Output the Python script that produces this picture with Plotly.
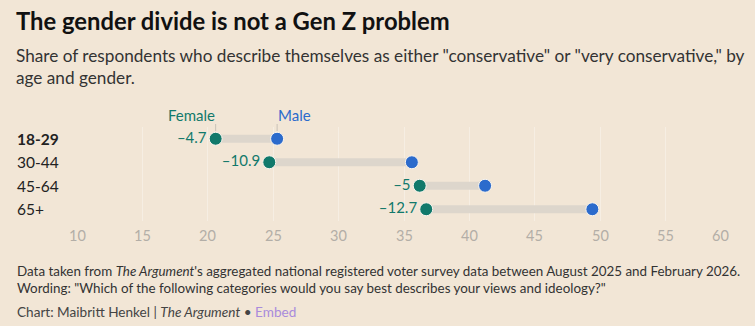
import plotly.graph_objects as go

# ---- data ----
groups = ["18-29", "30-44", "45-64", "65+"]
female = [20.6, 24.7, 36.2, 36.7]
male = [25.3, 35.6, 41.2, 49.4]
gap_labels = ["–4.7", "–10.9", "–5", "–12.7"]
tick_vals = [10, 15, 20, 25, 30, 35, 40, 45, 50, 55, 60]
tick_text = [str(v) for v in tick_vals]

W, H = 755, 326
ML, MR, MT, MB = 77, 24, 127, 105
PW, PH = W - ML - MR, H - MT - MB

BG = "#f2e6d6"
TEAL = "#11796b"
BLUE = "#2c6bcc"
BAR = "#ddd6cc"
FONT = "Lato"


def px_x(px):
    return (px - ML) / PW


def px_y(py):
    return (H - MB - py) / PH


rows = list(range(len(groups)))
fig = go.Figure()

# connecting bars
for i in rows:
    fig.add_trace(go.Scatter(x=[female[i], male[i]], y=[i, i], mode="lines",
                             line=dict(color=BAR, width=8), hoverinfo="skip",
                             showlegend=False))

fig.add_trace(go.Scatter(x=female, y=rows, mode="markers+text",
                         text=gap_labels, textposition="middle left",
                         textfont=dict(family=FONT, size=15, color=TEAL),
                         marker=dict(size=13, color=TEAL, line=dict(color="#fbf6ef", width=1)),
                         showlegend=False))
fig.add_trace(go.Scatter(x=male, y=rows, mode="markers",
                         marker=dict(size=13, color=BLUE, line=dict(color="#fbf6ef", width=1)),
                         showlegend=False))

ann = []
# title / subtitle
ann.append(dict(text="<b>The gender divide is not a Gen Z problem</b>", x=px_x(14), y=px_y(5),
                xref="paper", yref="paper", xanchor="left", yanchor="top", showarrow=False,
                font=dict(family=FONT, size=23.8, color="#111")))
ann.append(dict(text="Share of respondents who describe themselves as either \"conservative\" or \"very conservative,\" by<br>age and gender.",
                x=px_x(14), y=px_y(43), xref="paper", yref="paper", xanchor="left", yanchor="top",
                align="left", showarrow=False,
                font=dict(family=FONT, size=17.2, color="#333")))
# row labels
for i, g in enumerate(groups):
    txt = f"<b>{g}</b>" if i == 0 else g
    ann.append(dict(text=txt, x=px_x(15), y=i, xref="paper", yref="y", xanchor="left",
                    yanchor="middle", showarrow=False,
                    font=dict(family=FONT, size=15.5, color="#222")))
# tick labels
for v, t in zip(tick_vals, tick_text):
    ann.append(dict(text=t, x=v, y=px_y(235), xref="x", yref="paper",
                    xanchor="right" if v == tick_vals[-1] else "center", yanchor="middle",
                    showarrow=False,
                    font=dict(family=FONT, size=14.5, color="#b3aea7")))
# legend labels
ann.append(dict(text="Female", x=female[0], y=px_y(115), xref="x", yref="paper",
                xanchor="right", yanchor="middle", xshift=1, showarrow=False,
                font=dict(family=FONT, size=15, color=TEAL)))
ann.append(dict(text="Male", x=male[0], y=px_y(115), xref="x", yref="paper",
                xanchor="left", yanchor="middle", xshift=-1, showarrow=False,
                font=dict(family=FONT, size=15, color=BLUE)))
# footer
ann.append(dict(text="Data taken from <i>The Argument</i>'s aggregated national registered voter survey data between August 2025 and February 2026.<br>Wording: \"Which of the following categories would you say best describes your views and ideology?\"",
                x=px_x(15), y=px_y(261), xref="paper", yref="paper", xanchor="left", yanchor="top",
                align="left", showarrow=False,
                font=dict(family=FONT, size=13.4, color="#333")))
ann.append(dict(text="Chart: Maibritt Henkel | <i>The Argument</i> • <span style='color:#a98bdc'>Embed</span>",
                x=px_x(15), y=px_y(302), xref="paper", yref="paper", xanchor="left", yanchor="top",
                align="left", showarrow=False,
                font=dict(family=FONT, size=13.6, color="#444")))

shapes = [
    dict(type="line", xref="x", yref="paper", x0=female[0], x1=female[0],
         y0=px_y(124), y1=px_y(131), line=dict(color="#c9c2b8", width=1)),
    dict(type="line", xref="x", yref="paper", x0=male[0], x1=male[0],
         y0=px_y(124), y1=px_y(131), line=dict(color="#c9c2b8", width=1)),
]

fig.update_layout(
    width=W, height=H, margin=dict(l=ML, r=MR, t=MT, b=MB),
    paper_bgcolor=BG, plot_bgcolor=BG,
    xaxis=dict(range=[10, 60], tickvals=tick_vals, showticklabels=False,
               showgrid=True, gridcolor="#f6eee3", gridwidth=1, zeroline=False,
               showline=False, fixedrange=True),
    yaxis=dict(range=[3.5, -0.5], showticklabels=False, showgrid=False,
               zeroline=False, showline=False, fixedrange=True),
    annotations=ann, shapes=shapes,
)

fig.write_html("out.html")
